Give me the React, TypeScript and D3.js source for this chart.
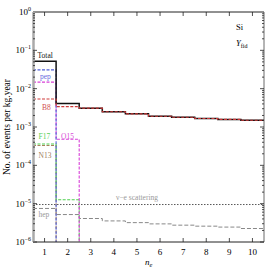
import React, { useEffect, useRef } from "react";
import * as d3 from "d3";

// bins in n_e
const ne = [1, 2, 3, 4, 5, 6, 7, 8, 9, 10];

// events per kg.year in each bin
const total = [0.052, 0.0041, 0.0031, 0.0025, 0.0022, 0.0019, 0.0018, 0.00167, 0.00158, 0.0015];
const b8 = [0.0054, 0.0034, 0.0031, 0.0025, 0.0022, 0.0019, 0.0018, 0.00167, 0.00158, 0.0015];
const pep = [0.031];
const o15 = [0.0148, 0.00048];
const f17 = [0.00036, 1.26e-5];
const n13 = [0.00033];
const hep = [7.5e-6, 5.2e-6, 4.1e-6, 3.55e-6, 3.2e-6, 2.97e-6, 2.75e-6, 2.59e-6, 2.45e-6, 2.25e-6];
const nue = [9.5e-6, 9.5e-6, 9.5e-6, 9.5e-6, 9.5e-6, 9.5e-6, 9.5e-6, 9.5e-6, 9.5e-6, 9.5e-6];

const yTicks = [1, 0.1, 0.01, 0.001, 1e-4, 1e-5, 1e-6];
const yExp = ["0", "\u22121", "\u22122", "\u22123", "\u22124", "\u22125", "\u22126"];

export default function App() {
  const ref = useRef<SVGSVGElement>(null);

  useEffect(() => {
    const svg = d3.select(ref.current);
    svg.selectAll("*").remove();

    const left = 33, right = 264, top = 12, bottom = 242;
    const x = d3.scaleLinear().domain([0.5, 10.5]).range([left, right]);
    const y = d3.scaleLog().domain([1e-6, 1]).range([bottom, top]);
    const font = "'Liberation Serif', 'Times New Roman', serif";

    // step line: horizontal at each bin value, drop to floor if series stops early
    const step = d3.line<[number, number]>()
      .x(d => x(d[0]))
      .y(d => y(d[1]))
      .curve(d3.curveStepAfter);

    function pts(vals: number[]) {
      const p: [number, number][] = vals.map((v, i) => [ne[i] - 0.5, v]);
      if (vals.length < ne.length) {
        p.push([ne[vals.length - 1] + 0.5, 1e-6]);
      } else {
        p.push([10.5, vals[vals.length - 1]]);
      }
      return p;
    }

    const g = svg.append("g");

    function series(vals: number[], color: string, width: number, dash: string | null) {
      g.append("path")
        .attr("d", step(pts(vals)))
        .attr("fill", "none")
        .attr("stroke", color)
        .attr("stroke-width", width)
        .attr("stroke-dasharray", dash);
    }

    series(nue, "#444", 0.9, "1.5,1.5");
    series(hep, "#888", 1, "4,2");
    series(n13, "#a8805a", 1.1, "3,1.5");
    series(f17, "#4fcf4f", 1.1, "3,1.5");
    series(o15, "#d840d8", 1.1, "3,1.5");
    series(pep, "#5060d8", 1.1, "3,1.5");
    series(total, "#111", 1.5, null);
    series(b8, "#d03a3a", 1.1, "3,1.5");

    // frame
    const frame = svg.append("g");
    frame.append("line").attr("x1", left).attr("x2", right).attr("y1", top).attr("y2", top)
      .attr("stroke", "#222").attr("stroke-width", 1);
    frame.append("line").attr("x1", left).attr("x2", right).attr("y1", bottom).attr("y2", bottom)
      .attr("stroke", "#222").attr("stroke-width", 1);
    frame.append("line").attr("x1", right).attr("x2", right).attr("y1", top).attr("y2", bottom)
      .attr("stroke", "#444").attr("stroke-width", 0.8);
    frame.append("line").attr("x1", left + 0.5).attr("x2", left + 0.5).attr("y1", top).attr("y2", bottom)
      .attr("stroke", "#aaa").attr("stroke-width", 2.5);

    // x major ticks top and bottom
    ne.forEach(n => {
      frame.append("line").attr("x1", x(n)).attr("x2", x(n)).attr("y1", bottom).attr("y2", bottom - 4)
        .attr("stroke", "#222").attr("stroke-width", 0.8);
      frame.append("line").attr("x1", x(n)).attr("x2", x(n)).attr("y1", top).attr("y2", top + 4)
        .attr("stroke", "#222").attr("stroke-width", 0.8);
      frame.append("text").attr("x", x(n)).attr("y", 255)
        .attr("text-anchor", "middle").style("font-family", font).style("font-size", "9px")
        .text(n);
    });

    // y ticks (major + log minor) on both sides
    for (let e = -6; e < 0; e++) {
      for (let m = 1; m < 10; m++) {
        const yy = y(m * Math.pow(10, e));
        const len = m === 1 ? 4 : 2;
        frame.append("line").attr("x1", left).attr("x2", left + len).attr("y1", yy).attr("y2", yy)
          .attr("stroke", "#222").attr("stroke-width", 0.8);
        frame.append("line").attr("x1", right).attr("x2", right - len).attr("y1", yy).attr("y2", yy)
          .attr("stroke", "#222").attr("stroke-width", 0.8);
      }
    }

    yTicks.forEach((t, i) => {
      const tx = frame.append("text").attr("x", 31).attr("y", y(t) + 3)
        .attr("text-anchor", "end").style("font-family", font).style("font-size", "9px");
      tx.append("tspan").text("10");
      tx.append("tspan").attr("dy", -4).style("font-size", "6px").text(yExp[i]);
    });

    // labels
    const lab = (t: string, lx: number, ly: number, c: string) =>
      svg.append("text").attr("x", lx).attr("y", ly).attr("fill", c)
        .style("font-family", font).style("font-size", "7.5px").text(t);
    lab("Total", 37.5, 57.5, "#111");
    lab("pep", 40, 79, "#6a6ae0");
    lab("B8", 42, 110, "#d05050");
    lab("F17", 38.5, 139, "#5ad05a");
    lab("O15", 61, 139, "#d850d8");
    lab("N13", 38.5, 158, "#a08060");
    lab("hep", 38.5, 217, "#999");
    lab("\u03bd\u2212e scattering", 116, 200, "#999");

    svg.append("text").attr("x", 236).attr("y", 30)
      .style("font-family", font).style("font-size", "8.5px").text("Si");
    const yf = svg.append("text").attr("x", 236).attr("y", 46)
      .style("font-family", font).style("font-size", "8.5px").style("font-style", "italic");
    yf.append("tspan").text("Y");
    yf.append("tspan").attr("dy", 2).style("font-size", "6px").style("font-style", "normal").text("fid");

    const xl = svg.append("text").attr("x", 145).attr("y", 265)
      .style("font-family", font).style("font-size", "9px").style("font-style", "italic");
    xl.append("tspan").text("n");
    xl.append("tspan").attr("dy", 2).style("font-size", "6.5px").text("e");

    svg.append("text")
      .attr("transform", `translate(10,${(top + bottom) / 2}) rotate(-90)`)
      .attr("text-anchor", "middle")
      .style("font-family", font).style("font-size", "9.5px")
      .text("No. of events per kg.year");
  }, []);

  return (
    <svg ref={ref} width={266} height={270}
      style={{ position: "absolute", left: 0, top: 0, background: "#fff" }} />
  );
}
